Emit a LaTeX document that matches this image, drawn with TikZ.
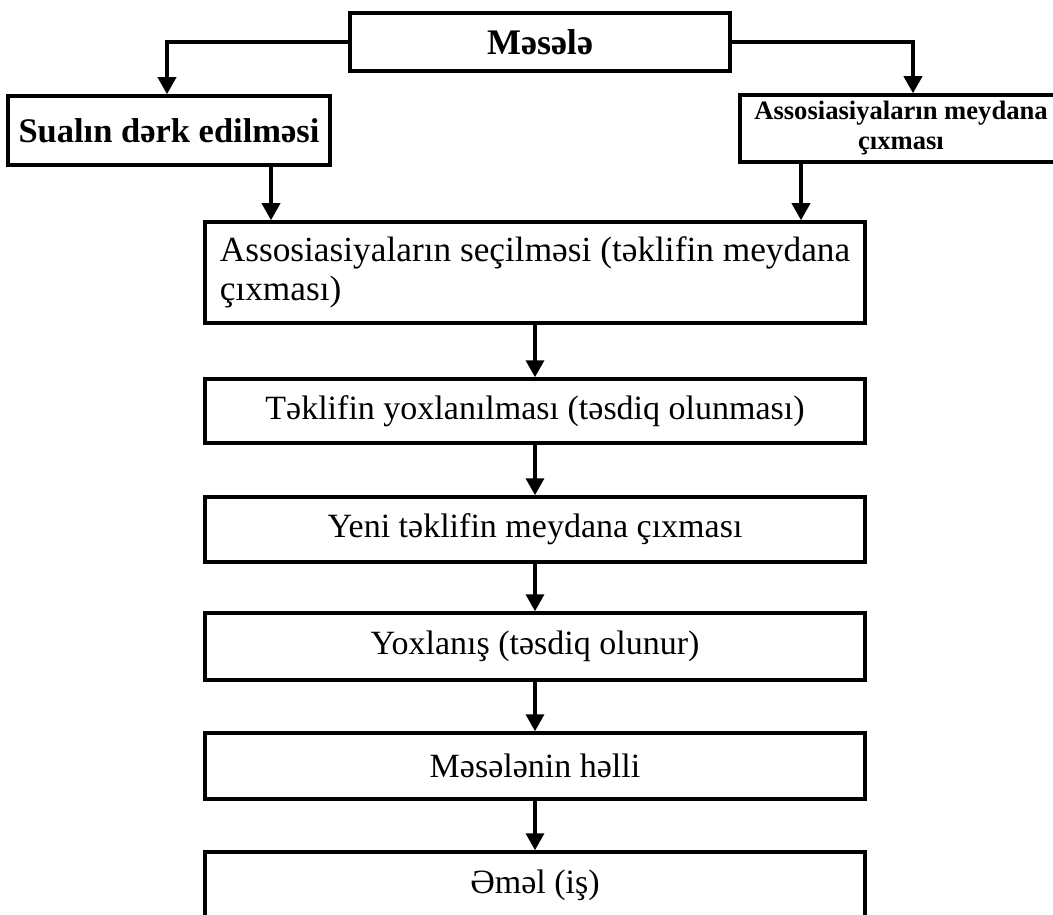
\documentclass[tikz,border=0pt]{standalone}
\usepackage{fontspec}
\setmainfont{Liberation Serif}
\usetikzlibrary{arrows.meta}
\begin{document}
\begin{tikzpicture}[x=1pt,y=-1pt,
  box/.style={draw, rectangle, line width=3.5pt, inner sep=0pt, align=center},
  midbox/.style={box, minimum width=660pt, font=\fontsize{34}{40}\selectfont},
  arr/.style={line width=3.5pt, -{Triangle[width=18pt,length=17pt]}}]
\useasboundingbox (0,0) rectangle (1053,915);
\node[box, minimum width=380pt, minimum height=58pt, font=\bfseries\fontsize{36}{40}\selectfont] (m) at (540,42) {Məsələ};
\node[box, minimum width=322pt, minimum height=69pt, font=\bfseries\fontsize{34.5}{38}\selectfont] (s) at (169,130.5) {Sualın dərk edilməsi};
\node[box, minimum width=322pt, minimum height=67pt, font=\bfseries\fontsize{26.6}{30}\selectfont] (a) at (901,128.5) {Assosiasiyaların meydana\\çıxması};
\node[box, minimum width=660pt, minimum height=101pt, align=left, font=\fontsize{35.3}{39}\selectfont] (b1) at (535,272.5) {Assosiasiyaların seçilməsi (təklifin meydana\\çıxması)};
\node[midbox, minimum height=64pt] (b2) at (535,411) {Təklifin yoxlanılması (təsdiq olunması)};
\node[midbox, minimum height=65pt] (b3) at (535,529.5) {Yeni təklifin meydana çıxması};
\node[midbox, minimum height=67pt] (b4) at (535,646.5) {Yoxlanış (təsdiq olunur)};
\node[midbox, minimum height=66pt] (b5) at (535,766) {Məsələnin həlli};
\node[midbox, minimum height=66pt] (b6) at (535,885) {Əməl (iş)};
\coordinate (sl) at ([xshift=-2pt]s.north);
\coordinate (ar) at ([xshift=12pt]a.north);
\coordinate (sd) at ([xshift=102pt]s.south);
\coordinate (ad) at ([xshift=-100pt]a.south);
\draw[arr] (m.west) -| (sl);
\draw[arr] (m.east) -| (ar);
\draw[arr] (sd) -- (sd |- b1.north);
\draw[arr] (ad) -- (ad |- b1.north);
\draw[arr] (b1.south) -- (b2.north);
\draw[arr] (b2.south) -- (b3.north);
\draw[arr] (b3.south) -- (b4.north);
\draw[arr] (b4.south) -- (b5.north);
\draw[arr] (b5.south) -- (b6.north);
\end{tikzpicture}
\end{document}
